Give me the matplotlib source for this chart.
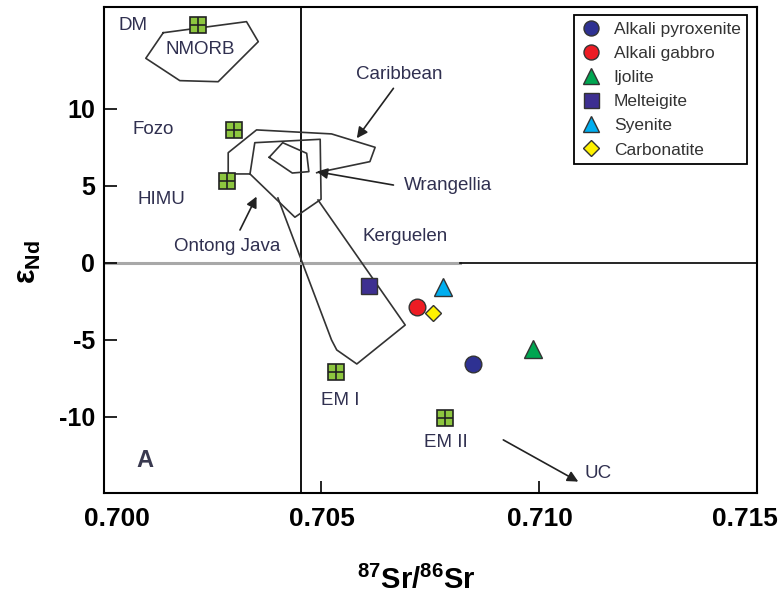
# plot.py
# Sr-Nd isotope diagram (panel A)

import numpy as np
import matplotlib
matplotlib.use("Agg")
import matplotlib.pyplot as plt
from matplotlib.transforms import ScaledTranslation

plt.rcParams['font.family'] = ['Liberation Sans', 'DejaVu Sans']
plt.rcParams['mathtext.fontset'] = 'custom'
plt.rcParams['mathtext.rm'] = 'Liberation Sans'
plt.rcParams['mathtext.bf'] = 'Liberation Sans:bold'
plt.rcParams['axes.unicode_minus'] = False

# sample data (87Sr/86Sr, eNd)
samples = ["Alkali pyroxenite", "Alkali gabbro", "Ijolite", "Melteigite", "Syenite", "Carbonatite"]
sample_sr = [0.70848, 0.70718, 0.70986, 0.70610, 0.70778, 0.70756]
sample_nd = [-6.56, -2.88, -5.60, -1.49, -1.59, -3.27]
sample_markers = ['o', 'o', '^', 's', '^', 'D']
sample_colors = ['#2e3192', '#ed1c24', '#00a651', '#3d2f91', '#00aeef', '#fff200']
sample_sizes = [12, 12, 13, 12, 13, 8.5]

# mantle end members
reservoirs = ["NMORB", "Fozo", "HIMU", "EM I", "EM II"]
res_sr = [0.70217, 0.70299, 0.70283, 0.70533, 0.70783]
res_nd = [15.45, 8.64, 5.32, -7.06, -10.08]

# outlines of the OIB / LIP fields
nmorb_x = [0.70137, 0.70328, 0.70355, 0.70263, 0.70175, 0.70097, 0.70137]
nmorb_y = [14.95, 15.67, 14.37, 11.77, 11.84, 13.29, 14.95]
carib_x = [0.70332, 0.70286, 0.70286, 0.70351, 0.70523, 0.70623, 0.70611, 0.70489]
carib_y = [5.78, 5.78, 7.16, 8.64, 8.38, 7.51, 6.58, 5.86]
ontong_x = [0.70336, 0.70347, 0.70497, 0.70499, 0.70439, 0.70336]
ontong_y = [5.78, 7.81, 8.03, 4.14, 2.97, 5.78]
wrang_x = [0.70380, 0.70411, 0.70466, 0.70471, 0.70433, 0.70380]
wrang_y = [6.86, 7.81, 7.12, 5.93, 5.84, 6.86]
kerg_x = [0.70400, 0.70523, 0.70535, 0.70581, 0.70692, 0.70492]
kerg_y = [4.22, -5.00, -5.65, -6.56, -4.03, 4.09]

# text labels
label_text = ["DM", "NMORB", "Caribbean", "Fozo", "HIMU", "Ontong Java",
              "Wrangellia", "Kerguelen", "EM I", "EM II", "UC"]
label_x = [0.70068, 0.70221, 0.70678, 0.70114, 0.70134, 0.70283,
           0.70790, 0.70692, 0.70542, 0.70786, 0.71134]
label_y = [15.45, 13.83, 12.21, 8.64, 4.09, 1.04,
           5.00, 1.69, -8.90, -11.69, -13.64]

# arrows: (tail, head)
arrows = [((0.70665, 11.34), (0.70581, 8.10)),   # Caribbean
          ((0.70665, 5.06), (0.70489, 5.93)),    # Wrangellia
          ((0.70313, 2.14), (0.70351, 4.31)),    # Ontong Java
          ((0.70917, -11.49), (0.71089, -14.20))]  # UC

bse_sr = 0.70454
XLIM = (0.700, 0.715)
YLIM = (-14.94, 16.62)


def main():
    fig = plt.figure(figsize=(7.83, 6.0), dpi=100)
    ax = fig.add_axes([0.1322, 0.1783, 0.8352, 0.81])

    # reference lines
    ax.axvline(bse_sr, color='black', lw=1.3, zorder=1)
    ax.plot([XLIM[0], 0.70818], [0, 0], color='#a8a8a8', lw=2.2, zorder=1)
    ax.plot([0.70818, XLIM[1]], [0, 0], color='black', lw=1.2, zorder=1)

    # fields
    for px, py in [(nmorb_x, nmorb_y), (carib_x, carib_y), (ontong_x, ontong_y),
                   (wrang_x, wrang_y), (kerg_x, kerg_y)]:
        ax.plot(px, py, color='#333333', lw=1.2, zorder=2)

    for (tx, ty), (hx, hy) in arrows:
        ax.annotate("", xy=(hx, hy), xytext=(tx, ty),
                    arrowprops=dict(arrowstyle='-|>', color='#222222', lw=1.2,
                                    mutation_scale=16, shrinkA=0, shrinkB=0), zorder=3)

    for t, x, y in zip(label_text, label_x, label_y):
        ax.text(x, y, t, fontsize=13.5, color='#303050', ha='center', va='center', zorder=4)
    ax.text(0.70095, -12.86, "A", fontsize=17, fontweight='bold', color='#3a3a50',
            ha='center', va='center')

    # end members: green square with a grid
    ax.plot(res_sr, res_nd, 's', ms=11, mfc='#8dc63f', mec='#222222', mew=1.2, zorder=5)
    ax.plot(res_sr, res_nd, '+', ms=11, mec='#222222', mew=1.2, zorder=6)

    for name, x, y, m, c, s in zip(samples, sample_sr, sample_nd, sample_markers,
                                   sample_colors, sample_sizes):
        ax.plot(x, y, m, ms=s, mfc=c, mec='#333333', mew=1.0, zorder=7,
                linestyle='none', label=name)

    leg = ax.legend(loc='upper right', bbox_to_anchor=(0.984, 0.9835), borderaxespad=0,
                    fontsize=12.5, frameon=True, fancybox=False, edgecolor='black',
                    framealpha=1, labelspacing=0.52, handletextpad=0.7, borderpad=0.37,
                    handlelength=1.2, markerscale=0.9, labelcolor='#333333')
    leg.get_frame().set_linewidth(1.3)

    ax.set_xlim(*XLIM)
    ax.set_ylim(*YLIM)
    ax.set_xticks([0.700, 0.705, 0.710, 0.715])
    ax.set_xticklabels(["0.700", "0.705", "0.710", "0.715"])
    ax.set_yticks([-10, -5, 0, 5, 10])
    ax.tick_params(axis='x', direction='in', length=9, width=1.2, labelsize=19, pad=10)
    ax.tick_params(axis='y', direction='in', length=9, width=1.2, labelsize=18, pad=6)
    for lab in ax.get_xticklabels() + ax.get_yticklabels():
        lab.set_fontweight('bold')
    # end labels sit a little inside the frame in the original
    xl = ax.get_xticklabels()
    xl[0].set_transform(xl[0].get_transform() + ScaledTranslation(9.7 / 72, 0, fig.dpi_scale_trans))
    xl[-1].set_transform(xl[-1].get_transform() + ScaledTranslation(-9 / 72, 0, fig.dpi_scale_trans))
    for sp in ax.spines.values():
        sp.set_linewidth(1.5)

    ax.set_xlabel(r"$^{\mathbf{87}}$Sr/$^{\mathbf{86}}$Sr", fontsize=21, fontweight='bold')
    ax.xaxis.set_label_coords(0.478, -0.15)
    ax.set_ylabel(r"ε$_{\mathbf{Nd}}$", fontsize=22, fontweight='bold', va='center')
    ax.yaxis.set_label_coords(-0.115, 0.475)

    fig.savefig("out.png", dpi=100)


if __name__ == "__main__":
    main()
